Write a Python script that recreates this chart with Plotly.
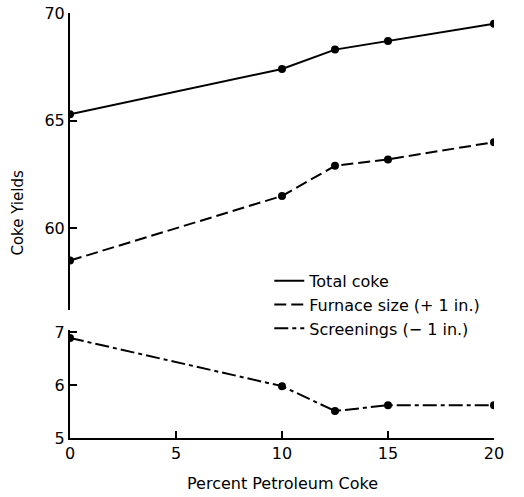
import plotly.graph_objects as go

pct_petroleum = [0, 10, 12.5, 15, 20]
total_coke = [65.3, 67.4, 68.3, 68.7, 69.5]
furnace_size = [58.5, 61.5, 62.9, 63.2, 64.0]
screenings = [6.89, 5.98, 5.51, 5.62, 5.62]

series_names = ["Total coke", "Furnace size (+ 1 in.)", "Screenings (\u2212 1 in.)"]
x_ticks = [0, 5, 10, 15, 20]
top_ticks = [60, 65, 70]
bottom_ticks = [5, 6, 7]

FONT = "DejaVu Sans"
dashes = ["solid", "12px,5px", "14px,4px,4px,4px"]

fig = go.Figure()
axes_for = ["y", "y", "y2"]
for vals, ax, dash in zip([total_coke, furnace_size, screenings], axes_for, dashes):
    fig.add_trace(go.Scatter(
        x=pct_petroleum, y=vals, xaxis="x", yaxis=ax, mode="lines+markers",
        line=dict(color="black", width=2, dash=dash),
        marker=dict(color="black", size=8), showlegend=False))

# legend-only entries
for name, dash in zip(series_names, dashes):
    fig.add_trace(go.Scatter(
        x=[None], y=[None], mode="lines", name=name,
        line=dict(color="black", width=2, dash=dash), showlegend=True))

axis_common = dict(ticks="inside", ticklen=7, tickwidth=1.5, tickcolor="black",
                   showline=True, linecolor="black", linewidth=2,
                   showgrid=False, zeroline=False, automargin=False,
                   tickfont=dict(size=16, family=FONT))

fig.update_layout(
    width=524, height=497,
    margin=dict(l=70, r=30, t=13, b=59, autoexpand=False),
    paper_bgcolor="white", plot_bgcolor="white",
    font=dict(family=FONT, color="black", size=15),
    xaxis=dict(range=[0, 20], anchor="y2", tickvals=x_ticks, **axis_common),
    yaxis=dict(domain=[0.301, 1], range=[56.2, 70], tickvals=top_ticks, anchor="x",
               **axis_common),
    yaxis2=dict(domain=[0, 0.254], range=[5, 7.04], tickvals=bottom_ticks, anchor="x",
                **axis_common),
    legend=dict(x=0.47, y=0.41, xanchor="left", yanchor="top",
                bgcolor="rgba(0,0,0,0)", font=dict(size=16, family=FONT),
                tracegroupgap=0),
    annotations=[
        dict(text="Coke Yields", xref="paper", yref="paper", x=-0.123, y=0.53,
             xanchor="center", yanchor="middle",
             textangle=-90, showarrow=False, font=dict(size=15, family=FONT)),
        dict(text="Percent Petroleum Coke", xref="paper", yref="paper", x=0.5, y=-0.106,
             xanchor="center", yanchor="middle",
             showarrow=False, font=dict(size=16, family=FONT)),
    ],
)

fig.write_html("out.html",
               config={"displayModeBar": False},
               post_script="document.body.style.margin='0px';document.body.style.overflow='hidden';")
